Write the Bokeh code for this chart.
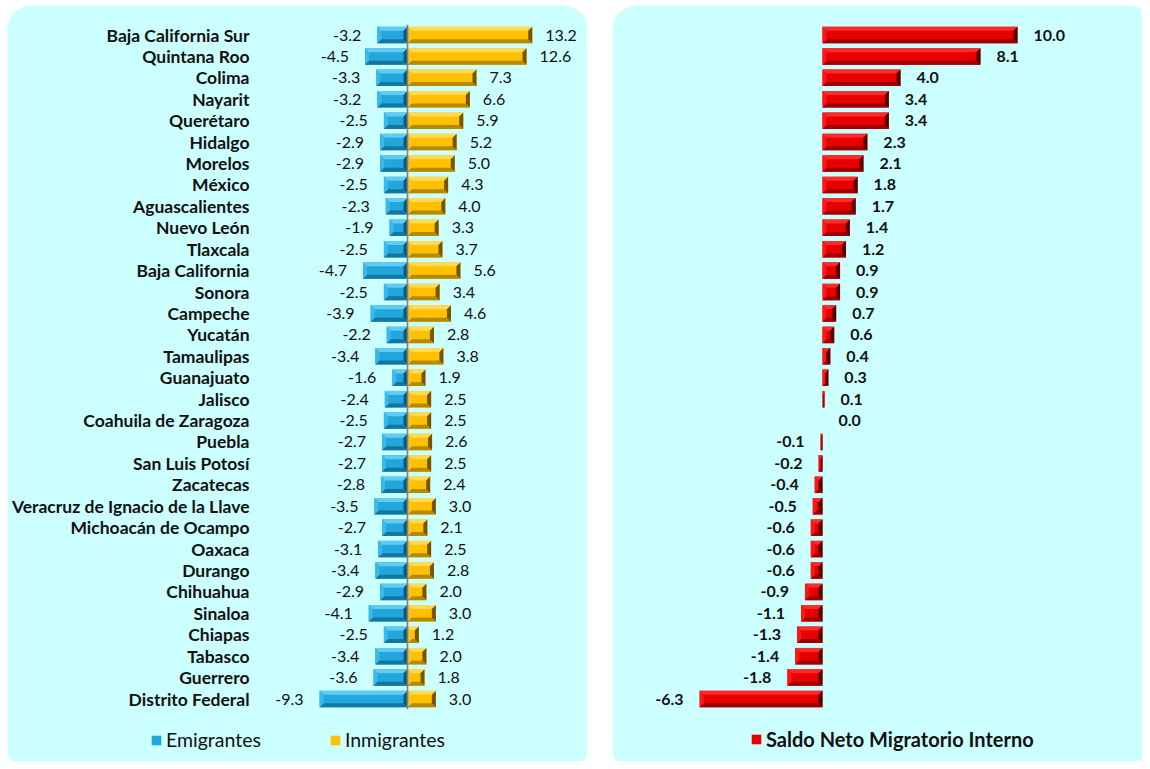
from bokeh.plotting import figure
from bokeh.models import Range1d, BoxAnnotation, Legend, LegendItem, ColumnDataSource
from bokeh.core.properties import value
from bokeh.embed import file_html
from bokeh.resources import INLINE

# ---------------- data ----------------
estados = ["Baja California Sur", "Quintana Roo", "Colima", "Nayarit", "Querétaro",
           "Hidalgo", "Morelos", "México", "Aguascalientes", "Nuevo León", "Tlaxcala",
           "Baja California", "Sonora", "Campeche", "Yucatán", "Tamaulipas", "Guanajuato",
           "Jalisco", "Coahuila de Zaragoza", "Puebla", "San Luis Potosí", "Zacatecas",
           "Veracruz de Ignacio de la Llave", "Michoacán de Ocampo", "Oaxaca", "Durango",
           "Chihuahua", "Sinaloa", "Chiapas", "Tabasco", "Guerrero", "Distrito Federal"]
emigrantes = [-3.2, -4.5, -3.3, -3.2, -2.5, -2.9, -2.9, -2.5, -2.3, -1.9, -2.5, -4.7, -2.5,
              -3.9, -2.2, -3.4, -1.6, -2.4, -2.5, -2.7, -2.7, -2.8, -3.5, -2.7, -3.1, -3.4,
              -2.9, -4.1, -2.5, -3.4, -3.6, -9.3]
inmigrantes = [13.2, 12.6, 7.3, 6.6, 5.9, 5.2, 5.0, 4.3, 4.0, 3.3, 3.7, 5.6, 3.4, 4.6, 2.8,
               3.8, 1.9, 2.5, 2.5, 2.6, 2.5, 2.4, 3.0, 2.1, 2.5, 2.8, 2.0, 3.0, 1.2, 2.0,
               1.8, 3.0]
saldo = [10.0, 8.1, 4.0, 3.4, 3.4, 2.3, 2.1, 1.8, 1.7, 1.4, 1.2, 0.9, 0.9, 0.7, 0.6, 0.4,
         0.3, 0.1, 0.0, -0.1, -0.2, -0.4, -0.5, -0.6, -0.6, -0.6, -0.9, -1.1, -1.3, -1.4,
         -1.8, -6.3]
series_names = ["Emigrantes", "Inmigrantes", "Saldo Neto Migratorio Interno"]

# ---------------- layout constants (pixels) ----------------
W, H = 1142, 761
ZERO_L, PX_L = 407.0, 9.45      # left panel: zero position and px per unit
ZERO_R, PX_R = 822.0, 19.5      # right panel
ROW_PX, FIRST_ROW = 21.42, 34.5
BAR_H = 0.77
FONT = "Lato"

n = len(estados)
rows = list(range(n))
y_top = -FIRST_ROW / ROW_PX


def XL(px):
    return (px - ZERO_L) / PX_L


def Y(px):
    return y_top + px / ROW_PX


p = figure(width=W, height=H, output_backend="svg", toolbar_location=None,
           x_range=Range1d(XL(0), XL(W)), y_range=Range1d(Y(H), Y(0)),
           x_axis_location=None, y_axis_location=None, min_border=0,
           outline_line_color=None, background_fill_color="white",
           border_fill_color="white")
p.extra_x_ranges = {"neto": Range1d(-ZERO_R / PX_R, (W - ZERO_R) / PX_R)}
p.grid.visible = False

# panels
p.add_layout(BoxAnnotation(left=XL(7), right=XL(587), top=Y(5), bottom=Y(772),
                           fill_color="#CCFFFF", fill_alpha=1, line_color=None,
                           border_radius=24, level="underlay"))
p.add_layout(BoxAnnotation(left=XL(612), right=XL(1152), top=Y(5), bottom=Y(772),
                           fill_color="#CCFFFF", fill_alpha=1, line_color=None,
                           border_radius=24, level="underlay"))


def bevel(vals, bx, by, cols, range_name="default"):
    xs, ys, cs = [], [], []
    for i, v in enumerate(vals):
        x0, x1 = min(0.0, v), max(0.0, v)
        b = min(bx, (x1 - x0) / 2)
        yt, yb = i - BAR_H / 2, i + BAR_H / 2
        xs += [[x0, x1, x1 - b, x0 + b], [x0, x1, x1 - b, x0 + b],
               [x0, x0 + b, x0 + b, x0], [x1, x1 - b, x1 - b, x1]]
        ys += [[yt, yt, yt + by, yt + by], [yb, yb, yb - by, yb - by],
               [yt, yt + by, yb - by, yb], [yt, yt + by, yb - by, yb]]
        cs += [cols["top"], cols["bottom"], cols["left"], cols["right"]]
    p.patches(xs, ys, fill_color=cs, line_color=None, x_range_name=range_name)


BLUE = dict(mid="#23A6DC", top="#5FCDF3", bottom="#13769F", left="#3BB8EA", right="#0D587C")
GOLD = dict(mid="#FFC000", top="#FFDA55", bottom="#B58900", left="#F5C521", right="#745600")
RED = dict(mid="#E80000", top="#FF2A2A", bottom="#9C0000", left="#FF1515", right="#560000")

by = 4.0 / ROW_PX

r_emi = p.hbar(y=rows, left=0, right=emigrantes, height=BAR_H, fill_color=BLUE["mid"],
               line_color=None)
bevel(emigrantes, 4.0 / PX_L, by, BLUE)
r_inm = p.hbar(y=rows, left=0, right=inmigrantes, height=BAR_H, fill_color=GOLD["mid"],
               line_color=None)
bevel(inmigrantes, 4.0 / PX_L, by, GOLD)
r_net = p.hbar(y=rows, left=0, right=saldo, height=BAR_H, fill_color=RED["mid"],
               line_color=None, x_range_name="neto")
bevel(saldo, 4.0 / PX_R, by, RED, "neto")

# zero line on left panel
p.segment(x0=0, y0=-0.48, x1=0, y1=n - 1 + 0.48, line_color="#7F7F7F", line_width=1.6)

# category labels
p.text(x=XL(249), y=rows, text=estados, text_align="right", text_baseline="middle",
       text_font=value(FONT), text_font_style="bold", text_font_size="17.5px",
       text_color="#111111")

# value labels left panel
p.text(x=emigrantes, y=rows, text=[f"{v:.1f}" for v in emigrantes], x_offset=-16,
       text_align="right", text_baseline="middle", text_font=value(FONT),
       text_font_size="16px", text_color="#111111")
p.text(x=inmigrantes, y=rows, text=[f"{v:.1f}" for v in inmigrantes], x_offset=13,
       text_align="left", text_baseline="middle", text_font=value(FONT),
       text_font_size="16px", text_color="#111111")

# value labels right panel
src_net = ColumnDataSource(dict(
    x=saldo, y=rows, t=[f"{v:.1f}" for v in saldo],
    off=[16 if v >= 0 else -16 for v in saldo],
    al=["left" if v >= 0 else "right" for v in saldo]))
p.text(x="x", y="y", text="t", x_offset="off", text_align="al", source=src_net,
       x_range_name="neto", text_baseline="middle", text_font=value(FONT),
       text_font_style="bold", text_font_size="16px", text_color="#111111")

# legends
leg1 = Legend(items=[LegendItem(label=series_names[0], renderers=[r_emi]),
                     LegendItem(label=series_names[1], renderers=[r_inm])],
              orientation="horizontal", location=(150, 10), padding=0, margin=0,
              spacing=68, glyph_width=12, glyph_height=12, label_standoff=4,
              label_text_font=FONT, label_text_font_size="19.5px",
              label_text_color="#111111", border_line_color=None,
              background_fill_alpha=0)
leg2 = Legend(items=[LegendItem(label=series_names[2], renderers=[r_net])],
              orientation="horizontal", location=(750, 10), padding=0, margin=0,
              glyph_width=12, glyph_height=12, label_standoff=4,
              label_text_font=FONT, label_text_font_size="20px",
              label_text_font_style="bold", label_text_color="#111111",
              border_line_color=None, background_fill_alpha=0)
p.add_layout(leg1)
p.add_layout(leg2)

open("out.html", "w").write(file_html(p, INLINE))
